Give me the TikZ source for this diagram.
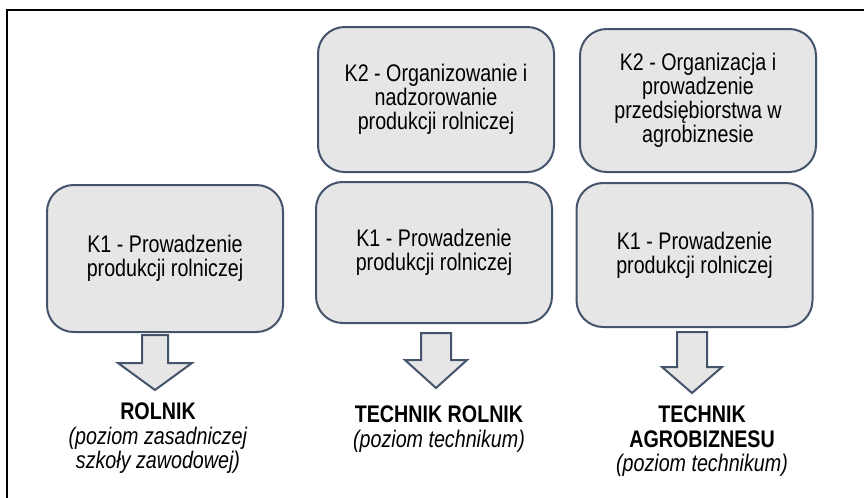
\documentclass[tikz,border=0pt]{standalone}
\usepackage{fontspec}
\setmainfont{Liberation Sans}[FakeStretch=0.82]
\newdimen\pxu \pxu=0.75pt
\definecolor{boxfill}{HTML}{E6E6E6}
\definecolor{boxline}{HTML}{44546A}
\tikzset{
  kbox/.style={draw=boxline, fill=boxfill, line width=1.5pt, rounded corners=20pt,
    align=center, inner sep=0pt, minimum width=236\pxu,
    font=\fontsize{18pt}{18pt}\selectfont},
  barrow/.style={draw=boxline, fill=boxfill, line width=1.5pt, line join=miter},
  lbl/.style={align=center, inner sep=0pt, anchor=north,
    font=\fontsize{18pt}{18.5pt}\selectfont},
  frameline/.style={line width=2pt, black}
}
% block arrow: centre x, top y, head-base y, tip y, half shaft, half head
\newcommand\blockarrow[6]{%
  \draw[barrow] (#1-#5,#2) -- (#1+#5,#2) -- (#1+#5,#3) -- (#1+#6,#3) -- (#1,#4)
    -- (#1-#6,#3) -- (#1-#5,#3) -- cycle;}
\begin{document}
\begin{tikzpicture}[x=0.75pt, y=-0.75pt]
\useasboundingbox (0,0) rectangle (864,497);
\fill[white] (0,0) rectangle (864,497);
% frame (left and top edges)
\coordinate (fa) at (7,505);
\coordinate (fb) at (7,10);
\coordinate (fc) at (875,10);
\draw[frameline] (fa) -- (fb) -- (fc);
% boxes
\node[kbox, minimum height=147\pxu] (b1) at (165,258.5) {K1 - Prowadzenie\\produkcji rolniczej};
\node[kbox, minimum height=145\pxu] (b2) at (436,99.5) {K2 - Organizowanie i\\nadzorowanie\\produkcji rolniczej};
\node[kbox, minimum height=141\pxu] (b3) at (434,252.5) {K1 - Prowadzenie\\produkcji rolniczej};
\node[kbox, minimum height=143\pxu] (b4) at (698,100.5) {K2 - Organizacja i\\prowadzenie\\przedsiębiorstwa w\\agrobiznesie};
\node[kbox, minimum height=144\pxu] (b5) at (694.5,255) {K1 - Prowadzenie\\produkcji rolniczej};
% arrows
\blockarrow{155}{335}{363}{390}{13}{37}
\blockarrow{436}{333}{360}{388}{15}{31}
\blockarrow{692}{332}{367}{393}{15}{30}
% labels
\node[lbl] (l1) at (158,402.5) {\textbf{ROLNIK}\\\textit{(poziom zasadniczej}\\\textit{szkoły zawodowej)}};
\node[lbl] (l2) at (439,405.5) {\textbf{TECHNIK ROLNIK}\\\textit{(poziom technikum)}};
\node[lbl] (l3) at (702,405.5) {\textbf{TECHNIK}\\\textbf{AGROBIZNESU}\\\textit{(poziom technikum)}};
\end{tikzpicture}
\end{document}
